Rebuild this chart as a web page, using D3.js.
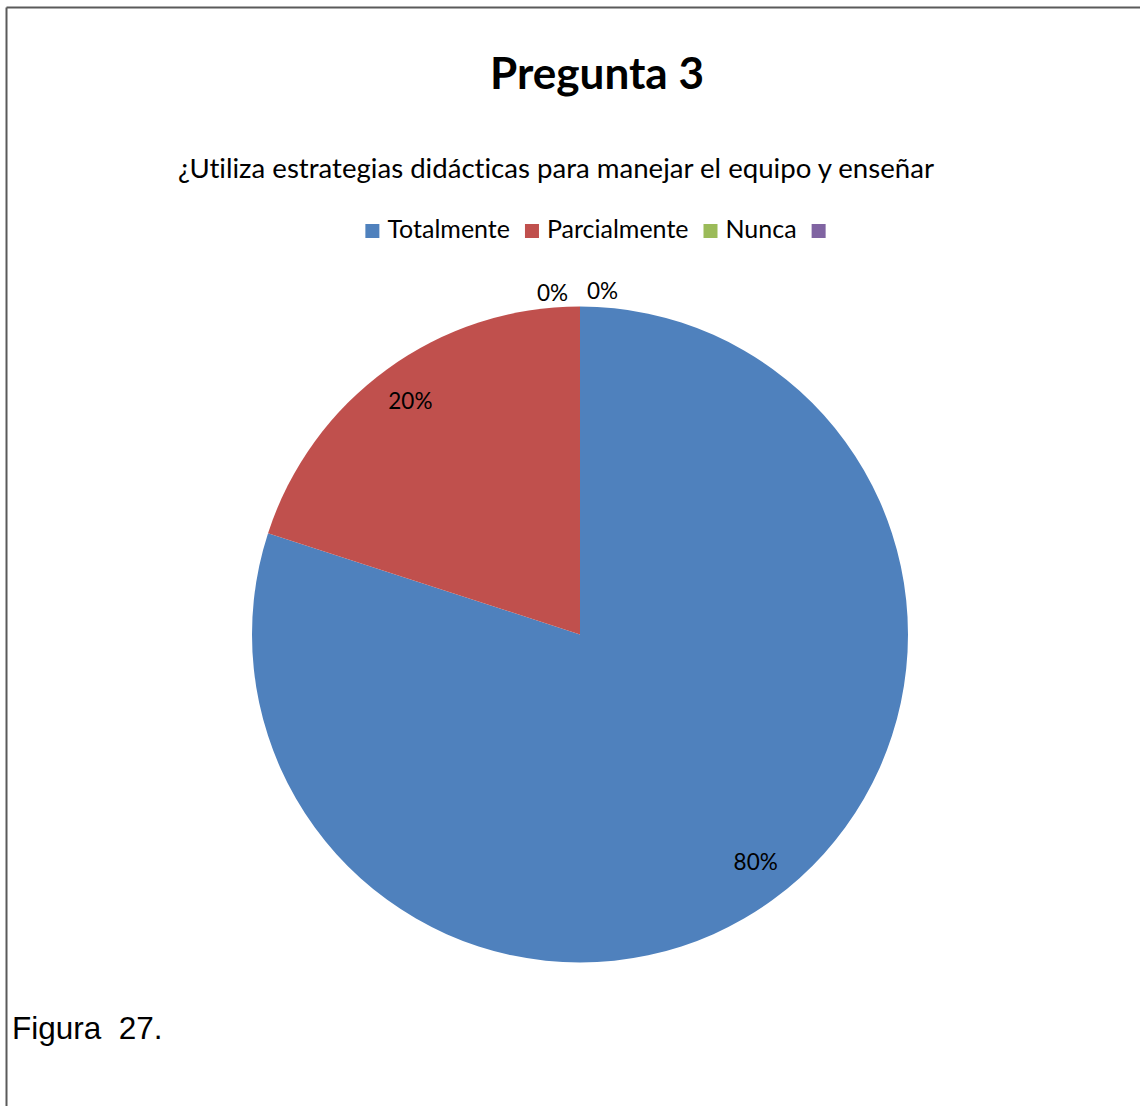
<!DOCTYPE html>
<html>
<head>
<meta charset="utf-8">
<script src="https://cdn.jsdelivr.net/npm/d3@7"></script>
<style>
  html, body { margin: 0; padding: 0; background: #fff; }
  svg { display: block; }
  text { font-variant-ligatures: none; font-feature-settings: "liga" 0, "clig" 0; }
</style>
</head>
<body>
<svg id="chart" width="1140" height="1106"></svg>
<script>
const categories = ["Totalmente", "Parcialmente", "Nunca", ""];
const values = [80, 20, 0, 0];
const percentLabels = ["80%", "20%", "0%", "0%"];
const colors = ["#4F81BD", "#C0504D", "#9BBB59", "#8064A2"];
const titleText = "Pregunta 3";
const subtitleText = "¿Utiliza estrategias didácticas para manejar el equipo y enseñar";
const captionText = "Figura  27.";

const svg = d3.select("#chart");
const W = 1140, H = 1106;
const FONT = "Lato, 'Open Sans', sans-serif";

// frame (top and left edges visible)
svg.append("line").attr("x1", 6.5).attr("y1", 7.5).attr("x2", W).attr("y2", 7.5)
  .attr("stroke", "#5a5a5a").attr("stroke-width", 2);
svg.append("line").attr("x1", 6.5).attr("y1", 7.5).attr("x2", 6.5).attr("y2", H)
  .attr("stroke", "#5a5a5a").attr("stroke-width", 2);

function fitText(sel, targetWidth) {
  const node = sel.node();
  const size = parseFloat(sel.attr("font-size"));
  const w = node.getComputedTextLength();
  if (w > 0) sel.attr("font-size", (size * targetWidth / w).toFixed(2));
}

// title
const title = svg.append("text").attr("x", 597).attr("y", 89)
  .attr("text-anchor", "middle").attr("font-family", FONT).attr("font-weight", "bold")
  .attr("font-size", 40).attr("fill", "#000").text(titleText);
fitText(title, 214);

// subtitle
const sub = svg.append("text").attr("x", 556).attr("y", 178)
  .attr("text-anchor", "middle").attr("font-family", FONT)
  .attr("font-size", 26).attr("fill", "#000").text(subtitleText);
fitText(sub, 756);

// legend
const legend = svg.append("g");
let lx = 0;
const legendFont = 25;
categories.forEach((c, i) => {
  const g = legend.append("g").attr("transform", `translate(${lx},0)`);
  g.append("rect").attr("x", 0).attr("y", -14).attr("width", 14).attr("height", 14).attr("fill", colors[i]);
  const t = g.append("text").attr("x", 22).attr("y", 0).attr("font-family", FONT)
    .attr("font-size", legendFont).attr("fill", "#000").text(c);
  const tw = c ? t.node().getComputedTextLength() : 0;
  lx += 22 + tw + 15;
});
const legendWidth = lx - 15 - 8;
legend.attr("transform", `translate(${595.5 - legendWidth / 2},238)`);

// pie
const cx = 580, cy = 634.5, R = 328;
const pie = d3.pie().sort(null).value(d => d);
const arcs = pie(values);
const arc = d3.arc().innerRadius(0).outerRadius(R);
const labelArc = d3.arc().innerRadius(R * 0.88).outerRadius(R * 0.88);
const pg = svg.append("g").attr("transform", `translate(${cx},${cy})`);
pg.selectAll("path").data(arcs).join("path")
  .attr("d", arc).attr("fill", (d, i) => colors[i]);

let zeroIdx = 0;
arcs.forEach((d, i) => {
  let x, y, anchor = "middle";
  if (d.value > 0) {
    [x, y] = labelArc.centroid(d);
    y += 8;
    if (x > 0) { x += 6; y -= 6; }
  } else {
    const a = d.startAngle;
    x = Math.sin(a) * (R + 12);
    y = -Math.cos(a) * (R + 12) + 4;
    if (zeroIdx === 0) { x -= 12; anchor = "end"; y += 2; }
    else { x += 7; anchor = "start"; }
    zeroIdx++;
  }
  pg.append("text").attr("x", x).attr("y", y).attr("text-anchor", anchor)
    .attr("font-family", FONT).attr("font-size", 22.5).attr("fill", "#000")
    .text(percentLabels[i]);
});

// caption
svg.append("text").attr("x", 12).attr("y", 1039)
  .attr("font-family", "'Liberation Sans', Arial, sans-serif").attr("font-size", 31.5)
  .attr("fill", "#000").attr("xml:space", "preserve").style("white-space", "pre").text(captionText);
</script>
</body>
</html>
